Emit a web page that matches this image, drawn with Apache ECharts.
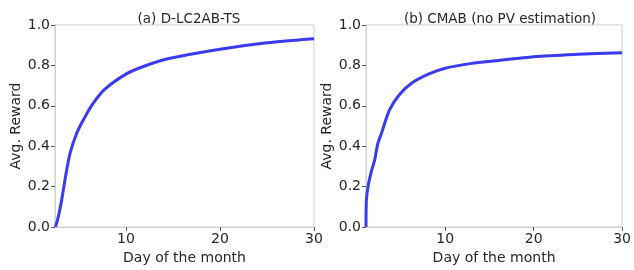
<!DOCTYPE html>
<html>
<head>
<meta charset="utf-8">
<script src="https://cdn.jsdelivr.net/npm/echarts@6/dist/echarts.min.js"></script>
<style>
  html, body { margin: 0; padding: 0; background: #fff; }
  #main { width: 634px; height: 270px; }
</style>
</head>
<body>
<div id="main"></div>
<script>
// (a) D-LC2AB-TS
const dayA = [2.5, 2.8, 3.16, 3.51, 4.05, 4.76, 5.46, 6.4, 7.7, 10, 12, 14.7, 20, 25, 30]
const rewardA = [0, 0.05, 0.134, 0.233, 0.365, 0.464, 0.53, 0.605, 0.68, 0.757, 0.797, 0.835, 0.88, 0.912, 0.932]

// (b) CMAB (no PV estimation)
const dayB = [1.04, 1.08, 1.27, 1.64, 2.01, 2.38, 2.76, 3.69, 4.81, 6.3, 8.17, 10, 13, 15.8, 20, 25, 30]
const rewardB = [0, 0.13, 0.2, 0.274, 0.33, 0.414, 0.46, 0.579, 0.655, 0.715, 0.758, 0.786, 0.81, 0.823, 0.843, 0.855, 0.863]

const xTicks = [10, 20, 30]
const titles = ['(a) D-LC2AB-TS', '(b) CMAB (no PV estimation)']

const font = 'DejaVu Sans'
const textColor = '#262626'

function xAxis(idx, min) {
  return {
    type: 'value',
    gridIndex: idx,
    min: min,
    max: 30,
    name: 'Day of the month',
    nameLocation: 'middle',
    nameGap: 22,
    nameTextStyle: { fontFamily: font, fontSize: 14, color: textColor },
    axisLine: { show: true, lineStyle: { color: '#cfcfcf' } },
    axisTick: { show: true, length: 4, customValues: xTicks, lineStyle: { color: '#555' } },
    axisLabel: { customValues: xTicks, fontFamily: font, fontSize: 14, color: textColor, margin: 5 },
    splitLine: { show: false }
  }
}

function yAxis(idx) {
  return {
    type: 'value',
    gridIndex: idx,
    min: 0,
    max: 1,
    interval: 0.2,
    name: 'Avg. Reward',
    nameLocation: 'middle',
    nameGap: 32,
    nameTextStyle: { fontFamily: font, fontSize: 14, color: textColor },
    axisLine: { show: true, lineStyle: { color: '#cfcfcf' } },
    axisTick: { show: true, length: 4, lineStyle: { color: '#555' } },
    axisLabel: { fontFamily: font, fontSize: 14, color: textColor, margin: 5,
      formatter: (v) => v.toFixed(1) },
    splitLine: { show: false }
  }
}

function lineSeries(idx, days, vals) {
  return {
    type: 'line',
    xAxisIndex: idx,
    yAxisIndex: idx,
    data: days.map((d, i) => [d, vals[i]]),
    smooth: 0.3,
    showSymbol: false,
    lineStyle: { color: '#3a3aee', width: 3 }
  }
}

const chart = echarts.init(document.getElementById('main'))
chart.setOption({
  animation: false,
  title: [
    { text: titles[0], left: 184, top: 7, textAlign: 'center',
      textStyle: { fontFamily: font, fontSize: 13.5, fontWeight: 'normal', color: textColor } },
    { text: titles[1], left: 495, top: 7, textAlign: 'center',
      textStyle: { fontFamily: font, fontSize: 13.5, fontWeight: 'normal', color: textColor } }
  ],
  grid: [
    { left: 55, right: 320, top: 25, bottom: 43, show: true, borderColor: '#cfcfcf', borderWidth: 1 },
    { left: 366, right: 9, top: 25, bottom: 43, show: true, borderColor: '#cfcfcf', borderWidth: 1 }
  ],
  xAxis: [xAxis(0, 2.45), xAxis(1, 1.04)],
  yAxis: [yAxis(0), yAxis(1)],
  series: [lineSeries(0, dayA, rewardA), lineSeries(1, dayB, rewardB)]
})
</script>
</body>
</html>
